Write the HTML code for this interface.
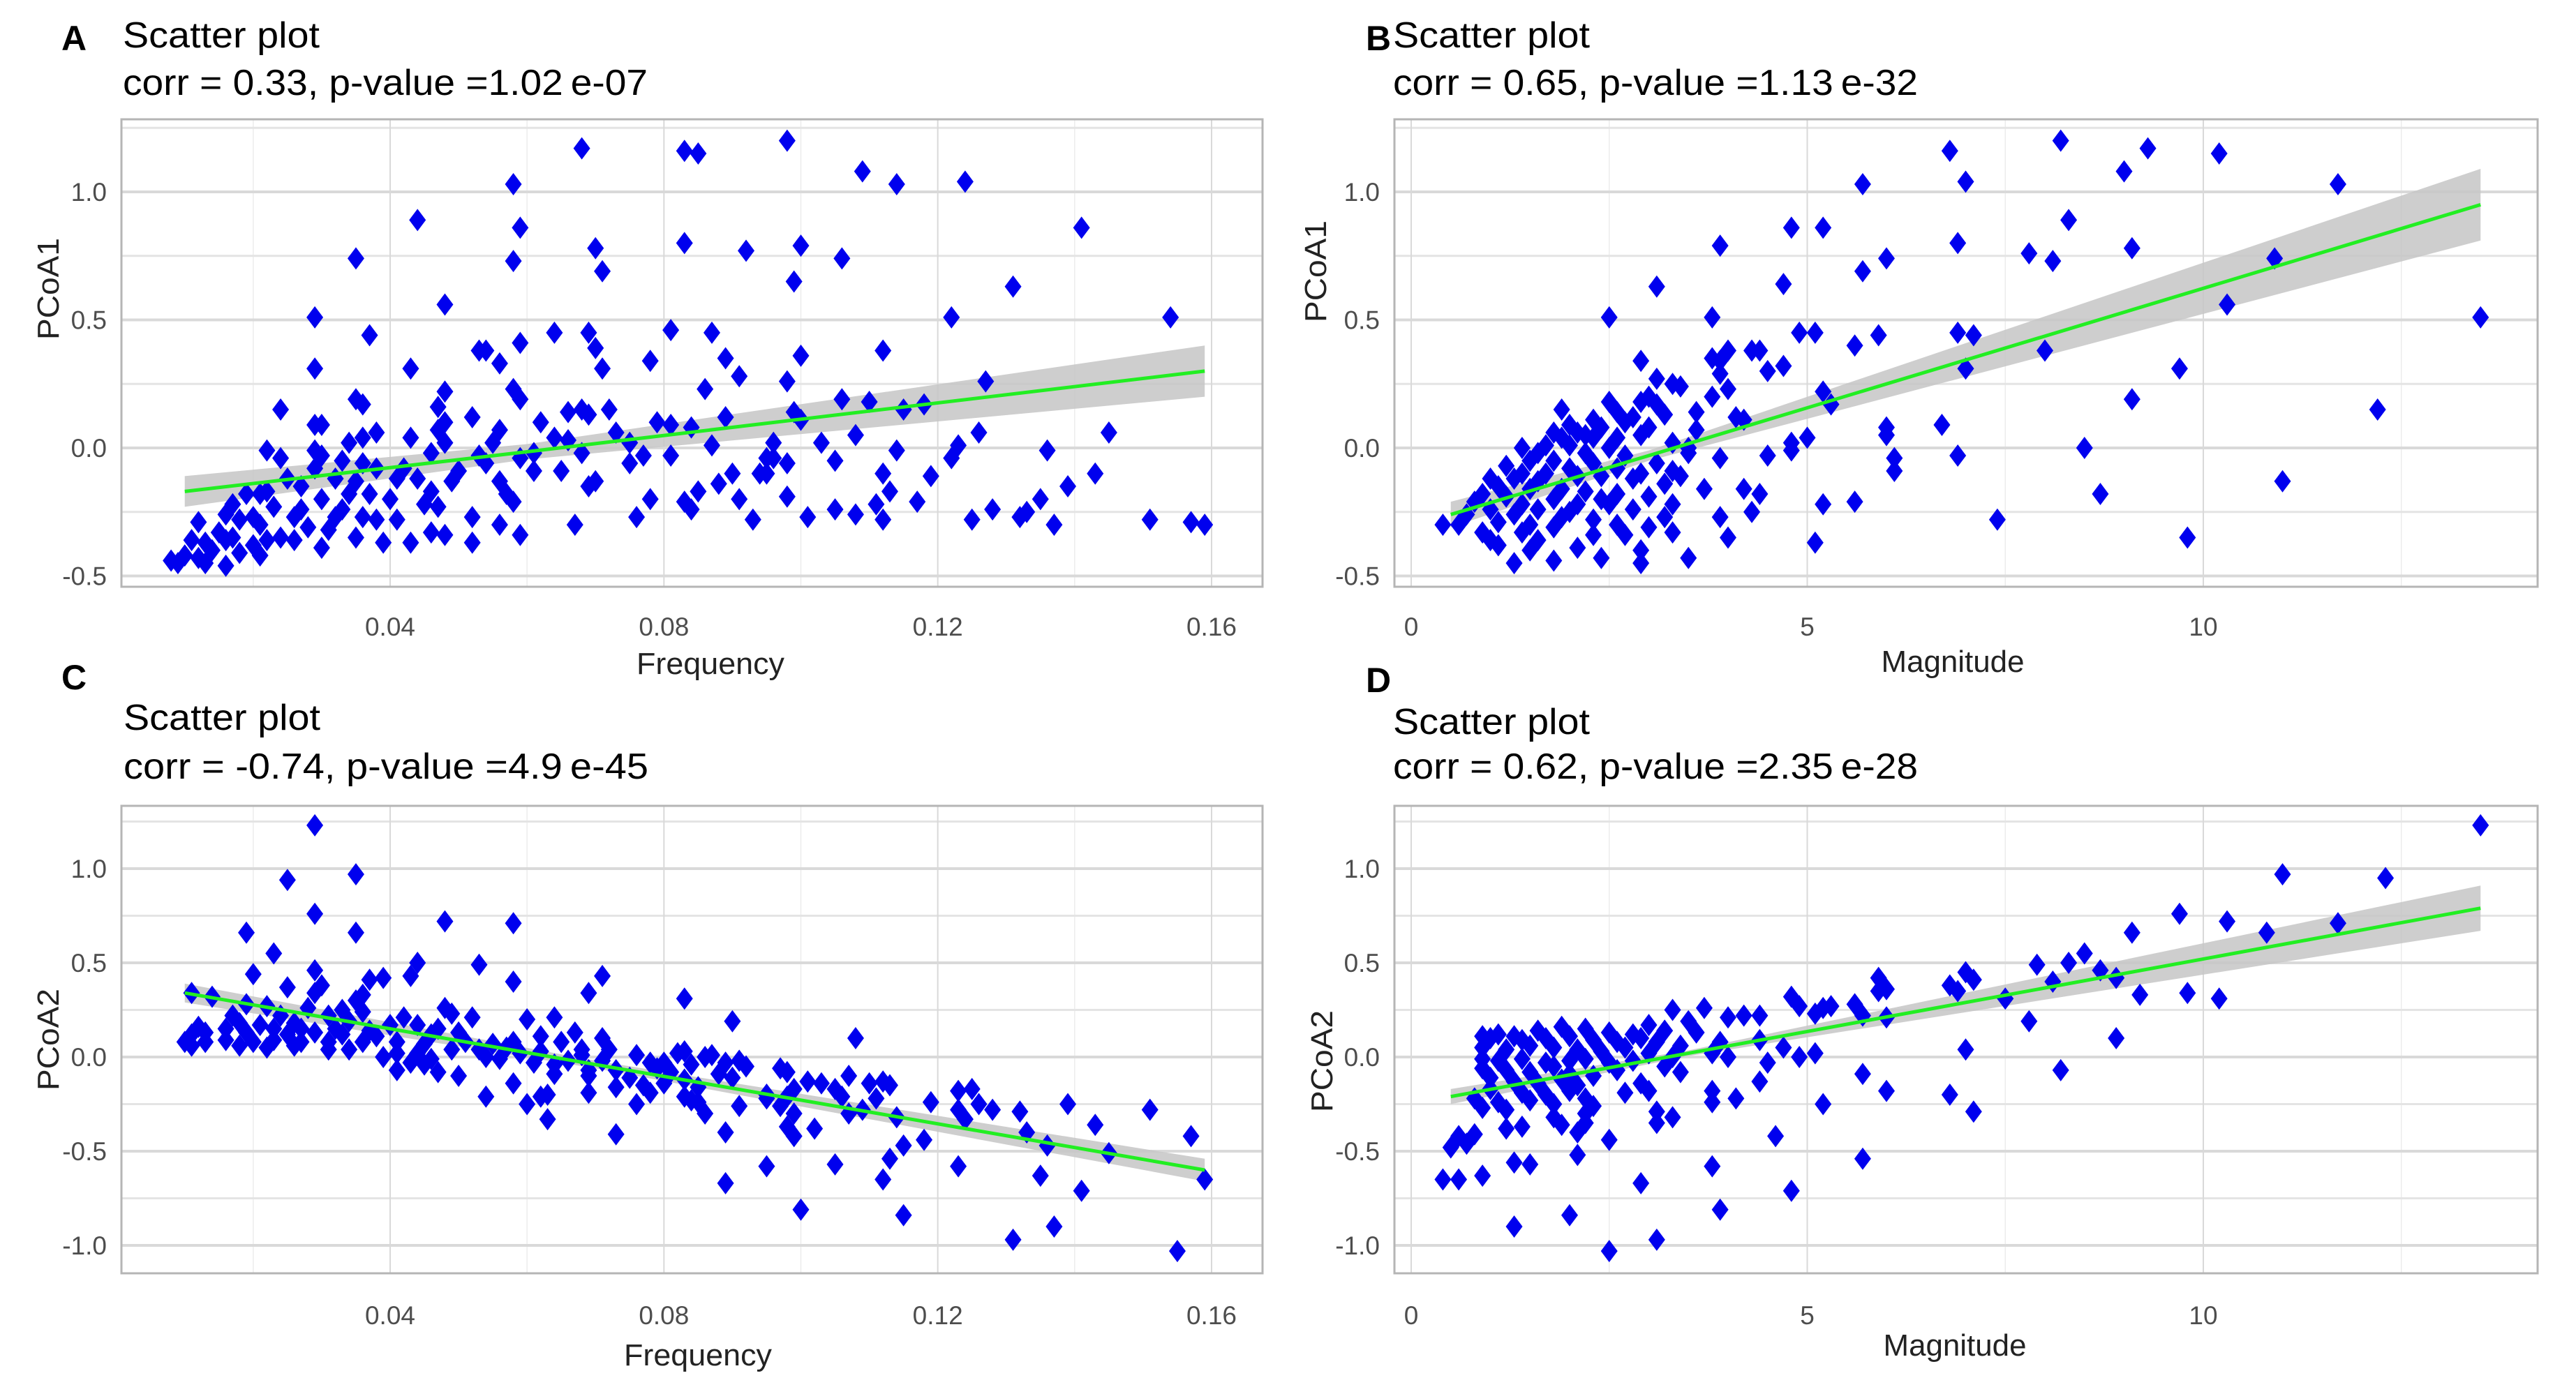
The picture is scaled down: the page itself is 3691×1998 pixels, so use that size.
<!DOCTYPE html>
<html><head><meta charset="utf-8"><style>
html,body{margin:0;padding:0;background:#fff;}
svg{display:block;font-family:"Liberation Sans",sans-serif;}
</style></head><body>
<svg id="fig" width="3691" height="1998" viewBox="0 0 3691 1998" xmlns="http://www.w3.org/2000/svg"></svg>
<script>
// ---------- DATA ----------
const freqTicks = [0.04, 0.08, 0.12, 0.16];
const freqTickLabels = ["0.04", "0.08", "0.12", "0.16"];
const magTicks = [0, 5, 10];
const magTickLabels = ["0", "5", "10"];
const pcoa1Ticks = [-0.5, 0, 0.5, 1.0];
const pcoa1TickLabels = ["-0.5", "0.0", "0.5", "1.0"];
const pcoa2Ticks = [-1.0, -0.5, 0, 0.5, 1.0];
const pcoa2TickLabels = ["-1.0", "-0.5", "0.0", "0.5", "1.0"];

const panelAPoints = [[0.068,1.17],[0.083,1.16],[0.085,1.15],[0.098,1.20],[0.109,1.08],[0.114,1.03],[0.124,1.04],[0.058,1.03],[0.044,0.89],[0.059,0.86],[0.141,0.86],[0.083,0.80],[0.092,0.77],[0.100,0.79],[0.070,0.78],[0.035,0.74],[0.058,0.73],[0.106,0.74],[0.071,0.69],[0.099,0.65],[0.131,0.63],[0.048,0.56],[0.029,0.51],[0.122,0.51],[0.154,0.51],[0.037,0.44],[0.064,0.45],[0.069,0.45],[0.081,0.46],[0.087,0.45],[0.059,0.41],[0.053,0.38],[0.054,0.38],[0.070,0.39],[0.112,0.38],[0.078,0.34],[0.089,0.35],[0.100,0.36],[0.029,0.31],[0.043,0.31],[0.056,0.33],[0.071,0.31],[0.091,0.28],[0.058,0.23],[0.048,0.22],[0.086,0.23],[0.098,0.26],[0.127,0.26],[0.035,0.19],[0.036,0.17],[0.059,0.19],[0.047,0.16],[0.024,0.15],[0.068,0.15],[0.072,0.15],[0.066,0.14],[0.069,0.13],[0.089,0.12],[0.099,0.14],[0.100,0.11],[0.106,0.19],[0.110,0.18],[0.115,0.15],[0.118,0.17],[0.052,0.12],[0.048,0.10],[0.062,0.10],[0.079,0.10],[0.081,0.09],[0.029,0.09],[0.030,0.09],[0.038,0.06],[0.047,0.07],[0.056,0.07],[0.073,0.06],[0.084,0.08],[0.145,0.06],[0.126,0.06],[0.043,0.04],[0.034,0.02],[0.036,0.04],[0.064,0.04],[0.066,0.03],[0.048,0.02],[0.055,0.02],[0.075,0.02],[0.087,0.01],[0.096,0.02],[0.103,0.02],[0.108,0.05],[0.123,0.01],[0.022,-0.01],[0.029,-0.01],[0.030,-0.03],[0.046,-0.02],[0.053,-0.03],[0.061,-0.02],[0.068,-0.02],[0.077,-0.03],[0.081,-0.03],[0.095,-0.04],[0.096,-0.04],[0.105,-0.05],[0.114,-0.01],[0.122,-0.04],[0.136,-0.01],[0.024,-0.04],[0.033,-0.05],[0.036,-0.06],[0.054,-0.06],[0.059,-0.04],[0.075,-0.06],[0.098,-0.06],[0.029,-0.08],[0.038,-0.08],[0.042,-0.08],[0.050,-0.09],[0.061,-0.09],[0.065,-0.09],[0.070,-0.13],[0.090,-0.10],[0.095,-0.10],[0.112,-0.10],[0.119,-0.11],[0.143,-0.10],[0.025,-0.12],[0.032,-0.12],[0.035,-0.13],[0.041,-0.12],[0.044,-0.12],[0.049,-0.13],[0.056,-0.13],[0.069,-0.15],[0.088,-0.14],[0.094,-0.10],[0.027,-0.15],[0.022,-0.17],[0.034,-0.18],[0.037,-0.18],[0.046,-0.17],[0.057,-0.18],[0.085,-0.17],[0.113,-0.17],[0.139,-0.15],[0.019,-0.18],[0.021,-0.18],[0.030,-0.20],[0.040,-0.20],[0.045,-0.22],[0.058,-0.21],[0.078,-0.20],[0.083,-0.21],[0.091,-0.20],[0.098,-0.19],[0.111,-0.22],[0.117,-0.21],[0.135,-0.20],[0.017,-0.22],[0.023,-0.23],[0.027,-0.24],[0.033,-0.24],[0.047,-0.23],[0.084,-0.24],[0.105,-0.24],[0.128,-0.24],[0.133,-0.25],[0.016,-0.26],[0.020,-0.27],[0.026,-0.27],[0.032,-0.27],[0.036,-0.27],[0.038,-0.28],[0.052,-0.27],[0.076,-0.27],[0.101,-0.27],[0.108,-0.26],[0.132,-0.27],[0.012,-0.29],[0.018,-0.28],[0.021,-0.30],[0.028,-0.31],[0.041,-0.28],[0.056,-0.30],[0.067,-0.30],[0.093,-0.28],[0.112,-0.28],[0.125,-0.28],[0.137,-0.30],[0.151,-0.28],[0.157,-0.29],[0.159,-0.30],[0.015,-0.33],[0.017,-0.35],[0.022,-0.36],[0.024,-0.35],[0.031,-0.32],[0.035,-0.35],[0.046,-0.33],[0.059,-0.34],[0.011,-0.36],[0.013,-0.37],[0.016,-0.36],[0.020,-0.38],[0.026,-0.36],[0.039,-0.37],[0.052,-0.37],[0.014,-0.40],[0.010,-0.42],[0.012,-0.43],[0.018,-0.41],[0.021,-0.42],[0.030,-0.39],[0.043,-0.37],[0.008,-0.44],[0.009,-0.45],[0.013,-0.45],[0.016,-0.46],[0.048,-0.34]];
const panelAFitX = [0.010, 0.060, 0.159];
const panelAFitY = [-0.17, -0.015, 0.30];
const panelAFitSE = [0.06, 0.03, 0.10];

const panelBPoints = [[8.2,1.20],[6.8,1.16],[9.3,1.17],[10.2,1.15],[9.0,1.08],[5.7,1.03],[7.0,1.04],[11.7,1.03],[4.8,0.86],[5.2,0.86],[8.3,0.89],[3.9,0.79],[6.9,0.80],[9.1,0.78],[7.8,0.76],[8.1,0.73],[6.0,0.74],[10.9,0.74],[5.7,0.69],[4.7,0.64],[3.1,0.63],[10.3,0.56],[2.5,0.51],[3.8,0.51],[13.5,0.51],[4.9,0.45],[5.1,0.45],[5.9,0.44],[6.9,0.45],[7.1,0.44],[5.6,0.40],[4.0,0.38],[4.3,0.38],[4.4,0.38],[3.8,0.35],[3.9,0.34],[8.0,0.38],[2.9,0.34],[4.7,0.32],[4.5,0.30],[7.0,0.31],[9.7,0.31],[3.1,0.27],[3.3,0.25],[3.4,0.24],[3.9,0.29],[4.0,0.23],[5.2,0.22],[3.0,0.20],[3.8,0.20],[2.5,0.18],[2.9,0.18],[3.1,0.17],[3.6,0.14],[1.9,0.15],[5.3,0.17],[9.1,0.19],[12.2,0.15],[2.6,0.14],[2.8,0.12],[3.2,0.13],[4.1,0.12],[4.2,0.11],[2.3,0.11],[2.0,0.09],[2.7,0.10],[3.0,0.08],[6.7,0.09],[6.0,0.08],[2.4,0.08],[1.8,0.06],[2.1,0.06],[2.2,0.05],[3.6,0.07],[6.0,0.05],[1.9,0.04],[2.3,0.04],[2.6,0.04],[2.9,0.05],[3.3,0.02],[5.0,0.04],[4.8,0.02],[1.7,0.01],[2.0,0.01],[2.5,0.00],[1.4,0.00],[3.5,0.00],[4.8,-0.01],[8.5,0.00],[1.6,-0.02],[2.2,-0.02],[2.7,-0.03],[3.5,-0.02],[4.5,-0.03],[3.9,-0.04],[6.9,-0.03],[6.1,-0.04],[1.5,-0.05],[1.8,-0.05],[2.3,-0.06],[3.1,-0.06],[1.2,-0.07],[2.0,-0.08],[2.6,-0.08],[3.3,-0.09],[6.1,-0.09],[1.4,-0.10],[1.7,-0.10],[2.1,-0.11],[2.4,-0.11],[2.9,-0.10],[3.4,-0.11],[1.0,-0.12],[1.3,-0.12],[1.6,-0.13],[2.8,-0.12],[11.0,-0.13],[3.2,-0.14],[3.7,-0.16],[4.2,-0.16],[1.1,-0.15],[1.5,-0.16],[1.9,-0.16],[2.2,-0.17],[2.6,-0.18],[4.4,-0.18],[8.7,-0.18],[0.9,-0.18],[1.2,-0.19],[1.8,-0.20],[2.4,-0.20],[3.0,-0.19],[0.8,-0.21],[1.4,-0.22],[2.1,-0.22],[2.5,-0.22],[3.3,-0.22],[5.2,-0.22],[5.6,-0.21],[1.0,-0.24],[1.6,-0.24],[2.0,-0.25],[2.8,-0.24],[4.3,-0.25],[0.7,-0.26],[1.3,-0.26],[1.9,-0.27],[2.3,-0.28],[3.2,-0.27],[3.9,-0.27],[7.4,-0.28],[0.4,-0.30],[0.6,-0.30],[1.1,-0.29],[1.5,-0.30],[1.8,-0.31],[2.6,-0.30],[3.0,-0.31],[0.9,-0.33],[1.4,-0.33],[2.3,-0.34],[2.7,-0.34],[3.3,-0.33],[4.0,-0.35],[9.8,-0.35],[1.0,-0.36],[1.6,-0.36],[5.1,-0.37],[1.1,-0.38],[1.5,-0.40],[2.1,-0.39],[2.9,-0.40],[3.5,-0.43],[1.3,-0.45],[1.8,-0.44],[2.4,-0.43],[2.9,-0.45]];
const panelBFitX = [0.5, 3.0, 13.5];
const panelBFitY = [-0.26, -0.03, 0.95];
const panelBFitSE = [0.05, 0.02, 0.14];

const panelCPoints = [[0.029,1.23],[0.025,0.94],[0.035,0.97],[0.029,0.76],[0.019,0.66],[0.035,0.66],[0.048,0.72],[0.058,0.71],[0.023,0.55],[0.020,0.44],[0.029,0.46],[0.044,0.50],[0.053,0.49],[0.043,0.43],[0.071,0.43],[0.025,0.37],[0.030,0.38],[0.037,0.41],[0.039,0.42],[0.058,0.40],[0.069,0.34],[0.083,0.31],[0.011,0.34],[0.014,0.32],[0.029,0.34],[0.035,0.30],[0.036,0.33],[0.019,0.28],[0.022,0.27],[0.028,0.26],[0.033,0.25],[0.048,0.26],[0.036,0.24],[0.017,0.22],[0.024,0.22],[0.031,0.22],[0.042,0.21],[0.049,0.23],[0.052,0.21],[0.060,0.20],[0.064,0.21],[0.090,0.19],[0.018,0.18],[0.021,0.17],[0.026,0.18],[0.034,0.19],[0.040,0.17],[0.044,0.17],[0.012,0.16],[0.016,0.15],[0.023,0.15],[0.027,0.15],[0.032,0.15],[0.037,0.14],[0.047,0.15],[0.050,0.13],[0.011,0.12],[0.013,0.13],[0.019,0.13],[0.025,0.12],[0.029,0.13],[0.033,0.12],[0.038,0.11],[0.046,0.12],[0.062,0.11],[0.067,0.13],[0.071,0.10],[0.108,0.10],[0.010,0.08],[0.013,0.08],[0.016,0.09],[0.020,0.08],[0.023,0.09],[0.027,0.08],[0.031,0.08],[0.036,0.08],[0.041,0.08],[0.045,0.07],[0.051,0.08],[0.055,0.07],[0.058,0.08],[0.065,0.08],[0.011,0.06],[0.018,0.06],[0.022,0.05],[0.026,0.06],[0.031,0.04],[0.034,0.04],[0.041,0.02],[0.049,0.04],[0.053,0.04],[0.057,0.05],[0.062,0.03],[0.068,0.04],[0.072,0.04],[0.039,0.00],[0.044,0.02],[0.054,0.00],[0.059,0.02],[0.068,0.01],[0.076,0.01],[0.082,0.02],[0.083,0.03],[0.086,0.00],[0.087,0.01],[0.043,-0.03],[0.045,-0.04],[0.046,-0.01],[0.056,-0.01],[0.061,-0.03],[0.064,-0.04],[0.066,-0.02],[0.071,-0.02],[0.078,-0.03],[0.080,-0.03],[0.084,-0.04],[0.089,-0.03],[0.091,-0.02],[0.092,-0.05],[0.041,-0.07],[0.047,-0.08],[0.069,-0.07],[0.073,-0.07],[0.079,-0.06],[0.081,-0.08],[0.088,-0.09],[0.097,-0.06],[0.098,-0.08],[0.107,-0.10],[0.050,-0.10],[0.064,-0.09],[0.069,-0.10],[0.075,-0.11],[0.083,-0.12],[0.090,-0.11],[0.101,-0.13],[0.110,-0.14],[0.112,-0.13],[0.113,-0.15],[0.058,-0.14],[0.073,-0.16],[0.077,-0.15],[0.080,-0.14],[0.085,-0.16],[0.099,-0.17],[0.103,-0.14],[0.105,-0.17],[0.123,-0.18],[0.125,-0.17],[0.069,-0.19],[0.078,-0.19],[0.083,-0.21],[0.095,-0.20],[0.098,-0.21],[0.106,-0.21],[0.111,-0.22],[0.054,-0.21],[0.062,-0.21],[0.063,-0.20],[0.095,-0.22],[0.084,-0.23],[0.085,-0.24],[0.119,-0.24],[0.126,-0.25],[0.139,-0.25],[0.060,-0.25],[0.076,-0.25],[0.091,-0.26],[0.097,-0.26],[0.109,-0.28],[0.123,-0.28],[0.128,-0.28],[0.086,-0.30],[0.099,-0.30],[0.107,-0.30],[0.132,-0.29],[0.151,-0.28],[0.063,-0.33],[0.114,-0.32],[0.124,-0.33],[0.098,-0.37],[0.102,-0.38],[0.143,-0.36],[0.073,-0.41],[0.089,-0.40],[0.099,-0.42],[0.133,-0.40],[0.118,-0.44],[0.157,-0.42],[0.115,-0.47],[0.136,-0.47],[0.113,-0.54],[0.145,-0.51],[0.095,-0.58],[0.105,-0.57],[0.123,-0.58],[0.135,-0.63],[0.112,-0.65],[0.159,-0.65],[0.089,-0.67],[0.141,-0.71],[0.100,-0.81],[0.115,-0.84],[0.137,-0.90],[0.131,-0.97],[0.155,-1.03]];
const panelCFitX = [0.010, 0.070, 0.159];
const panelCFitY = [0.34, -0.04, -0.60];
const panelCFitSE = [0.05, 0.02, 0.06];

const panelDPoints = [[13.5,1.23],[11.0,0.97],[12.3,0.95],[9.7,0.76],[10.3,0.72],[9.1,0.66],[10.8,0.66],[11.7,0.71],[8.5,0.55],[7.9,0.49],[8.3,0.50],[8.7,0.46],[8.9,0.42],[8.1,0.40],[5.9,0.42],[6.0,0.36],[5.9,0.35],[6.8,0.38],[7.0,0.45],[7.1,0.41],[6.9,0.35],[9.2,0.33],[9.8,0.34],[10.2,0.31],[7.5,0.31],[4.8,0.32],[4.9,0.27],[5.2,0.26],[5.3,0.27],[5.6,0.28],[5.7,0.22],[5.1,0.23],[6.0,0.21],[4.2,0.22],[4.4,0.22],[4.0,0.21],[3.7,0.26],[3.3,0.25],[3.5,0.19],[3.0,0.17],[7.8,0.19],[8.9,0.10],[3.6,0.13],[3.2,0.14],[2.8,0.12],[2.5,0.13],[2.2,0.15],[1.9,0.16],[1.6,0.14],[1.3,0.11],[1.0,0.10],[0.9,0.11],[1.1,0.12],[1.4,0.09],[1.7,0.10],[2.0,0.11],[2.3,0.09],[2.6,0.08],[2.9,0.10],[3.1,0.08],[3.4,0.06],[3.9,0.08],[4.4,0.09],[4.7,0.05],[3.8,0.02],[4.0,0.00],[4.9,0.00],[5.1,0.02],[7.0,0.04],[0.9,0.05],[1.2,0.04],[1.5,0.06],[1.8,0.05],[2.1,0.04],[2.4,0.03],[2.7,0.05],[3.0,0.02],[3.3,0.00],[0.9,-0.01],[1.1,-0.02],[1.4,-0.01],[1.7,-0.03],[2.0,-0.02],[2.2,-0.01],[2.5,-0.03],[2.8,-0.02],[3.2,-0.05],[3.4,-0.08],[4.5,-0.03],[0.9,-0.06],[1.2,-0.07],[1.5,-0.08],[1.8,-0.05],[2.0,-0.09],[2.3,-0.10],[2.6,-0.07],[4.4,-0.13],[5.7,-0.09],[8.2,-0.07],[1.0,-0.11],[1.3,-0.13],[1.6,-0.14],[1.9,-0.12],[2.1,-0.15],[2.9,-0.14],[3.0,-0.18],[1.0,-0.17],[1.4,-0.19],[1.7,-0.20],[2.0,-0.18],[2.7,-0.19],[3.8,-0.18],[4.1,-0.22],[6.0,-0.18],[6.8,-0.20],[0.8,-0.22],[1.1,-0.24],[1.5,-0.23],[1.8,-0.25],[2.2,-0.22],[3.8,-0.24],[5.2,-0.25],[0.9,-0.27],[1.2,-0.28],[2.3,-0.26],[7.1,-0.29],[2.2,-0.30],[3.1,-0.29],[3.3,-0.32],[3.1,-0.35],[1.8,-0.32],[1.9,-0.36],[1.4,-0.37],[2.2,-0.35],[1.2,-0.38],[2.1,-0.40],[0.8,-0.41],[0.6,-0.42],[4.6,-0.42],[2.5,-0.44],[0.7,-0.46],[0.5,-0.48],[2.1,-0.52],[1.3,-0.56],[1.5,-0.57],[5.7,-0.54],[3.8,-0.58],[0.9,-0.63],[0.4,-0.65],[0.6,-0.65],[2.9,-0.67],[4.8,-0.71],[3.9,-0.81],[2.0,-0.84],[1.3,-0.90],[3.1,-0.97],[2.5,-1.03]];
const panelDFitX = [0.5, 3.5, 13.5];
const panelDFitY = [-0.21, 0.02, 0.79];
const panelDFitSE = [0.04, 0.015, 0.12];

// ---------- RENDER ----------
const NS = "http://www.w3.org/2000/svg";
const svg = document.getElementById("fig");
function mk(tag, attrs, parent) {
  const e = document.createElementNS(NS, tag);
  for (const k in attrs) e.setAttribute(k, attrs[k]);
  (parent || svg).appendChild(e);
  return e;
}
function linScale(d0, d1, r0, r1) { return v => r0 + (v - d0) * (r1 - r0) / (d1 - d0); }

const panels = [
  {id:"a", letter:"A", pts:panelAPoints, fx:panelAFitX, fy:panelAFitY, fse:panelAFitSE,
   left:174, right:1809, top:171, bottom:841,
   xs: linScale(0.04, 0.16, 559, 1736), ys: linScale(0, 1, 642, 275),
   xt: freqTicks, xl: freqTickLabels, xMinor:[0.02,0.06,0.10,0.14],
   yt: pcoa1Ticks, yl: pcoa1TickLabels, yMinor:[-0.25,0.25,0.75,1.25],
   xTitle:"Frequency", yTitle:"PCoA1", sub:"corr = 0.33, p-value =1.02\u2009e-07",
   letterX:88, letterY:72, titleX:176, titleY:68, subY:136, xTitleX:1018, xTitleY:966, xTitleLen:212,
   yTitleX:70, yTitleY:414, tickLabY:898, yLabX:153},
  {id:"b", letter:"B", pts:panelBPoints, fx:panelBFitX, fy:panelBFitY, fse:panelBFitSE,
   left:1998, right:3636, top:171, bottom:841,
   xs: linScale(0, 10, 2022, 3157), ys: linScale(0, 1, 642, 275),
   xt: magTicks, xl: magTickLabels, xMinor:[2.5,7.5,12.5],
   yt: pcoa1Ticks, yl: pcoa1TickLabels, yMinor:[-0.25,0.25,0.75,1.25],
   xTitle:"Magnitude", yTitle:"PCoA1", sub:"corr = 0.65, p-value =1.13\u2009e-32",
   letterX:1957, letterY:72, titleX:1996, titleY:68, subY:136, xTitleX:2798, xTitleY:963, xTitleLen:205,
   yTitleX:1886, yTitleY:389, tickLabY:898, yLabX:1977},
  {id:"c", letter:"C", pts:panelCPoints, fx:panelCFitX, fy:panelCFitY, fse:panelCFitSE,
   left:174, right:1809, top:1155, bottom:1825,
   xs: linScale(0.04, 0.16, 559, 1736), ys: linScale(0, 1, 1515, 1245),
   xt: freqTicks, xl: freqTickLabels, xMinor:[0.02,0.06,0.10,0.14],
   yt: pcoa2Ticks, yl: pcoa2TickLabels, yMinor:[-0.75,-0.25,0.25,0.75,1.25],
   xTitle:"Frequency", yTitle:"PCoA2", sub:"corr = -0.74, p-value =4.9\u2009e-45",
   letterX:88, letterY:988, titleX:177, titleY:1046, subY:1116, xTitleX:1000, xTitleY:1957, xTitleLen:212,
   yTitleX:70, yTitleY:1490, tickLabY:1885, yLabX:153},
  {id:"d", letter:"D", pts:panelDPoints, fx:panelDFitX, fy:panelDFitY, fse:panelDFitSE,
   left:1998, right:3636, top:1155, bottom:1825,
   xs: linScale(0, 10, 2022, 3157), ys: linScale(0, 1, 1515, 1245),
   xt: magTicks, xl: magTickLabels, xMinor:[2.5,7.5,12.5],
   yt: pcoa2Ticks, yl: pcoa2TickLabels, yMinor:[-0.75,-0.25,0.25,0.75,1.25],
   xTitle:"Magnitude", yTitle:"PCoA2", sub:"corr = 0.62, p-value =2.35\u2009e-28",
   letterX:1957, letterY:992, titleX:1996, titleY:1052, subY:1116, xTitleX:2801, xTitleY:1943, xTitleLen:205,
   yTitleX:1895, yTitleY:1521, tickLabY:1885, yLabX:1977}
];

panels.forEach(p => {
  const g = mk("g", {});
  
  

  const letter = mk("text", {x:p.letterX, y:p.letterY, "font-size":50, "font-weight":"bold", fill:"#000"}, g);
  letter.textContent = p.letter;
  
  

  const t = mk("text", {x:p.titleX, y:p.titleY, "font-size":52, fill:"#000", textLength:282, lengthAdjust:"spacingAndGlyphs"}, g);
  t.textContent = "Scatter plot";
  
  
  const s = mk("text", {x:p.titleX, y:p.subY, "font-size":52, fill:"#000", textLength:752, lengthAdjust:"spacingAndGlyphs"}, g);
  s.textContent = p.sub;
  
  

  const W = p.right - p.left, H = p.bottom - p.top;
  const bg = mk("rect", {x:p.left, y:p.top, width:W, height:H, fill:"#fff"}, g);
  
  

  // minor grid
  p.xMinor.forEach(v => {
    const x = p.xs(v);
    const l = mk("line", {x1:x, x2:x, y1:p.top, y2:p.bottom, stroke:"#ececec", "stroke-width":1.5}, g);
    
    
  });
  p.yMinor.forEach(v => {
    const y = p.ys(v);
    if (y < p.top || y > p.bottom) return;
    const l = mk("line", {x1:p.left, x2:p.right, y1:y, y2:y, stroke:"#e4e4e4", "stroke-width":3}, g);
    
    
  });
  // major grid + tick labels
  p.xt.forEach((v, i) => {
    const x = p.xs(v);
    const l = mk("line", {x1:x, x2:x, y1:p.top, y2:p.bottom, stroke:"#d9d9d9", "stroke-width":2}, g);
    
    
    const tl = mk("text", {x:x, y:p.tickLabY + 13, "font-size":37, fill:"#4d4d4d", "text-anchor":"middle"}, g);
    tl.textContent = p.xl[i];
    
    
  });
  p.yt.forEach((v, i) => {
    const y = p.ys(v);
    const l = mk("line", {x1:p.left, x2:p.right, y1:y, y2:y, stroke:"#d9d9d9", "stroke-width":4}, g);
    
    
    const tl = mk("text", {x:p.yLabX, y:y + 13, "font-size":37, fill:"#4d4d4d", "text-anchor":"end"}, g);
    tl.textContent = p.yl[i];
    
    
  });

  // confidence band
  let up = "", lo = "";
  p.fx.forEach((v, i) => { up += (i ? "L" : "M") + p.xs(v) + "," + p.ys(p.fy[i] + p.fse[i]) + " "; });
  for (let i = p.fx.length - 1; i >= 0; i--) lo += "L" + p.xs(p.fx[i]) + "," + p.ys(p.fy[i] - p.fse[i]) + " ";
  const band = mk("path", {d: up + lo + "Z", fill:"#c6c6c6", "fill-opacity":0.85}, g);
  
  

  // points
  p.pts.forEach(pt => {
    const x = p.xs(pt[0]), y = p.ys(pt[1]);
    const d = mk("path", {d:`M${x},${y-16} L${x+12},${y} L${x},${y+16} L${x-12},${y} Z`, fill:"#0000ee"}, g);
    
    
  });

  // regression line
  let ld = "";
  p.fx.forEach((v, i) => { ld += (i ? "L" : "M") + p.xs(v) + "," + p.ys(p.fy[i]) + " "; });
  const line = mk("path", {d: ld, fill:"none", stroke:"#22ee22", "stroke-width":5}, g);
  
  

  // border
  const br = mk("rect", {x:p.left, y:p.top, width:W, height:H, fill:"none", stroke:"#b5b5b5", "stroke-width":3}, g);
  
  

  const xt = mk("text", {x:p.xTitleX, y:p.xTitleY, "font-size":44, fill:"#222", "text-anchor":"middle", textLength:p.xTitleLen, lengthAdjust:"spacingAndGlyphs"}, g);
  xt.textContent = p.xTitle;
  
  
  const yt = mk("text", {x:0, y:0, "font-size":44, fill:"#222", "text-anchor":"middle", textLength:146, lengthAdjust:"spacingAndGlyphs", transform:`translate(${p.yTitleX + 14},${p.yTitleY}) rotate(-90)`}, g);
  yt.textContent = p.yTitle;
  
  
});
</script>
</body></html>
